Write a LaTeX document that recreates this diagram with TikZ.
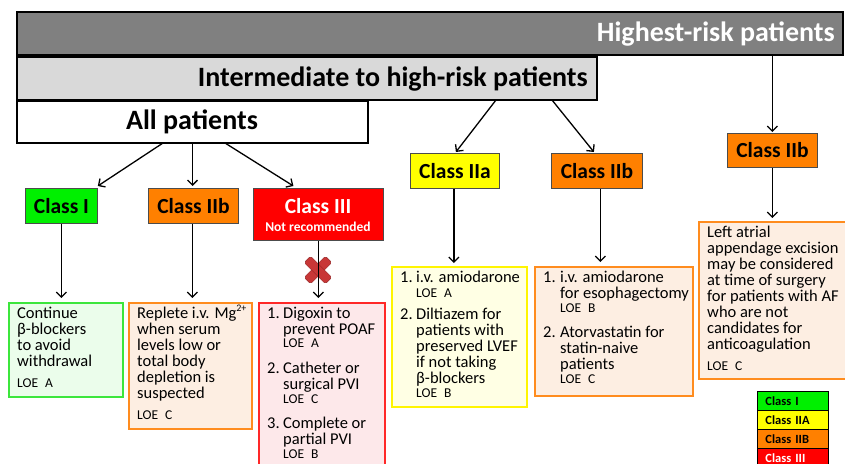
\documentclass[tikz,border=0pt]{standalone}
\usepackage{fontspec}
\setmainfont{Carlito}
\usetikzlibrary{arrows.meta}
\definecolor{hgray}{RGB}{128,128,128}
\definecolor{igray}{RGB}{217,217,217}
\definecolor{cgreen}{RGB}{0,240,0}
\definecolor{cyellow}{RGB}{255,255,0}
\definecolor{corange}{RGB}{255,128,0}
\definecolor{cred}{RGB}{255,0,0}
\definecolor{lgreen}{RGB}{235,253,235}
\definecolor{lorange}{RGB}{253,238,226}
\definecolor{lred}{RGB}{253,232,234}
\definecolor{lyellow}{RGB}{255,255,228}
\definecolor{bgreen}{RGB}{60,230,60}
\definecolor{borange}{RGB}{255,140,30}
\definecolor{bred}{RGB}{255,40,40}
\definecolor{byellow}{RGB}{255,245,0}
\definecolor{xfill}{RGB}{200,55,55}
\definecolor{xline}{RGB}{150,35,35}
\newcommand{\loe}[1]{{\fontsize{13.5}{14}\selectfont LOE\hspace{7pt}#1}}
\lineskiplimit=-100pt
\begin{document}
\begin{tikzpicture}[x=1pt,y=-1pt,
  hdr/.style={draw=black, line width=1.5pt, anchor=north west, inner sep=0pt, outer sep=0pt},
  hlabel/.style={font=\bfseries\fontsize{28}{28}\selectfont, inner sep=0pt},
  cls/.style={draw=black!70, line width=0.8pt, anchor=north west, inner sep=0pt, font=\bfseries\fontsize{21.5}{21.5}\selectfont},
  cbox/.style={line width=1.6pt, anchor=north west, inner sep=0pt},
  arr/.style={-{Straight Barb[length=5pt,width=10pt]}, line width=1.3pt},
  body/.style={font=\fontsize{16.5}{16}\selectfont, align=left, anchor=base west, inner sep=0pt},
  num/.style={font=\fontsize{16.5}{16}\selectfont, anchor=base west, inner sep=0pt},
  leg/.style={draw=black, line width=0.8pt, anchor=north west, minimum height=19pt, text width=55pt, inner xsep=8pt, inner ysep=0pt, align=left, font=\bfseries\fontsize{12.5}{12.5}\selectfont}
]
\useasboundingbox (0,0) rectangle (845,463);

% risk level bars
\node[hdr, fill=hgray, minimum width=826pt, minimum height=43pt] (high) at (17,12) {};
\node[hlabel, text=white, anchor=east] (highl) at (835,34) {Highest-risk patients};
\node[hdr, fill=igray, minimum width=580pt, minimum height=43pt] (inter) at (17,57) {};
\node[hlabel, anchor=east] (interl) at (588,79) {Intermediate to high-risk patients};
\node[hdr, fill=white, minimum width=351pt, minimum height=42pt] (allp) at (17,101) {};
\node[hlabel] (allpl) at (192,122) {All patients};

% class boxes
\node[cls, fill=cgreen, minimum width=72pt, minimum height=35pt] (c1) at (25,188) {Class I};
\node[cls, fill=corange, minimum width=90pt, minimum height=35pt] (c2) at (148,188) {Class IIb};
\node[cls, fill=cred, minimum width=130pt, minimum height=52pt] (c3) at (253,188) {};
\node[font=\bfseries\fontsize{21.5}{21.5}\selectfont, text=white, inner sep=0pt] (c3a) at (318,206) {Class III};
\node[font=\bfseries\fontsize{13.5}{13.5}\selectfont, text=white, inner sep=0pt] (c3b) at (318,227) {Not recommended};
\node[cls, fill=cyellow, minimum width=89pt, minimum height=35pt] (c4) at (410,153) {Class IIa};
\node[cls, fill=corange, minimum width=91pt, minimum height=35pt] (c5) at (551,153) {Class IIb};
\node[cls, fill=corange, minimum width=90pt, minimum height=34pt] (c6) at (727,133) {Class IIb};

% content boxes
\node[cbox, draw=bgreen, fill=lgreen, minimum width=114pt, minimum height=94pt] (b1) at (8,302) {};
\node[cbox, draw=borange, fill=lorange, minimum width=123pt, minimum height=126pt] (b2) at (128,302) {};
\node[cbox, draw=bred, fill=lred, minimum width=126pt, minimum height=170pt] (b3) at (258,302) {};
\node[cbox, draw=byellow, fill=lyellow, minimum width=135pt, minimum height=140pt] (b4) at (391,266) {};
\node[cbox, draw=borange, fill=lorange, minimum width=158pt, minimum height=129pt] (b5) at (534,266) {};
\node[cbox, draw=borange, fill=lorange, minimum width=152pt, minimum height=157pt] (b6) at (698,221) {};

% texts (anchored at the baseline of their last line)
\node[body] (t1) at (17,387) {Continue\\β-blockers\\to avoid\\withdrawal\\[5pt]\loe{A}};
\node[body] (t2) at (137,419) {Replete i.v. Mg\textsuperscript{\fontsize{10}{10}\selectfont 2+}\\when serum\\levels low or\\total body\\depletion is\\suspected\\[5pt]\loe{C}};
\node[num] (r1n) at (267,318) {1.};
\node[body] (r1t) at (283,347) {Digoxin to\\prevent POAF\\[-3pt]\loe{A}};
\node[num] (r2n) at (267,373) {2.};
\node[body] (r2t) at (283,403) {Catheter or\\surgical PVI\\[-2pt]\loe{C}};
\node[num] (r3n) at (267,428) {3.};
\node[body] (r3t) at (283,458) {Complete or\\partial PVI\\[-2pt]\loe{B}};
\node[num] (y1n) at (400,282) {1.};
\node[body] (y1t) at (416,297) {i.v. amiodarone\\[-1pt]\loe{A}};
\node[num] (y2n) at (400,319) {2.};
\node[body] (y2t) at (416,397) {Diltiazem for\\patients with\\preserved LVEF\\if not taking\\β-blockers\\[-2pt]\loe{B}};
\node[num] (o1n) at (543,282) {1.};
\node[body] (o1t) at (560,312) {i.v. amiodarone\\for esophagectomy\\[-2pt]\loe{B}};
\node[num] (o2n) at (543,337) {2.};
\node[body] (o2t) at (560,383) {Atorvastatin for\\statin-naive\\patients\\[-2pt]\loe{C}};
\node[body] (t6) at (707,370) {Left atrial\\appendage excision\\may be considered\\at time of surgery\\for patients with AF\\who are not\\candidates for\\anticoagulation\\[5pt]\loe{C}};

% red cross
\begin{scope}[rotate around={45:(318,270)}]
  \filldraw[fill=xfill, draw=xline, line width=0.5pt, rounded corners=1.5pt] (303,265.5) rectangle (333,274.5);
\end{scope}
\begin{scope}[rotate around={-45:(318,270)}]
  \filldraw[fill=xfill, draw=xline, line width=0.5pt, rounded corners=1.5pt] (303,265.5) rectangle (333,274.5);
\end{scope}

% connectors
\coordinate (a1) at (163,143);
\coordinate (a3) at (225,143);
\coordinate (i1) at (496,100);
\coordinate (i2) at (552,100);
\draw[arr] (a1) -- ([yshift=2pt]c1.north east);
\draw[arr] (allp.south) -- ([yshift=2pt]allp.south |- c2.north);
\draw[arr] (a3) -- ([xshift=-25pt,yshift=2pt]c3.north);
\draw[arr] (i1) -- ([xshift=1pt,yshift=1pt]c4.north);
\draw[arr] (i2) -- ([xshift=-3pt,yshift=1pt]c5.north);
\draw[arr] (high.south -| c6.north) -- ([yshift=1pt]c6.north);
\draw[arr, shorten >=4pt] (c1.south) -- (c1.south |- b1.north);
\draw[arr, shorten >=4pt] ([xshift=-1pt]c2.south) -- ([xshift=-1pt]c2.south |- b2.north);
\draw[arr, shorten >=4pt] (c3.south) -- (c3.south |- b3.north);
\draw[arr, shorten >=3pt] ([xshift=-1pt]c4.south) -- ([xshift=-1pt]c4.south |- b4.north);
\draw[arr, shorten >=4pt] ([xshift=3.5pt]c5.south) -- ([xshift=3.5pt]c5.south |- b5.north);
\draw[arr, shorten >=3pt] (c6.south) -- (c6.south |- b6.north);

% legend
\node[leg, fill=cgreen] (l1) at (757,391) {Class I};
\node[leg, fill=cyellow] (l2) at (757,410) {Class IIA};
\node[leg, fill=corange] (l3) at (757,429) {Class IIB};
\node[leg, fill=cred, text=white] (l4) at (757,448) {Class III};
\end{tikzpicture}
\end{document}
